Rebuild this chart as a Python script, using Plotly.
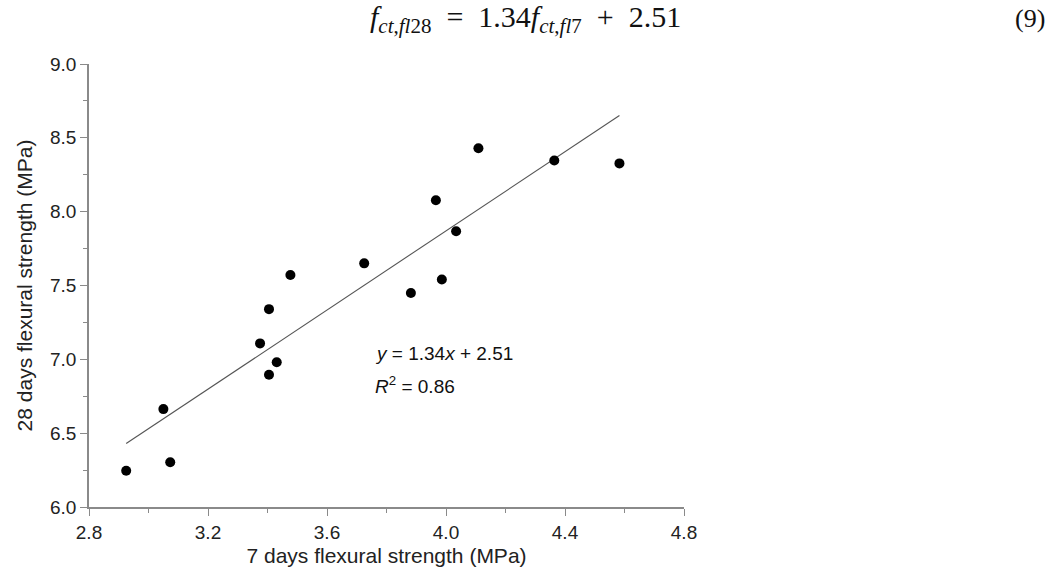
import plotly.graph_objects as go

# Data
x_7d = [2.925, 3.05, 3.073, 3.375, 3.405, 3.431, 3.405, 3.477, 3.725,
        3.882, 3.966, 3.986, 4.034, 4.109, 4.364, 4.583]
y_28d = [6.246, 6.663, 6.303, 7.108, 6.896, 6.98, 7.34, 7.571, 7.65,
         7.449, 8.077, 7.541, 7.867, 8.43, 8.347, 8.327]
slope = 1.34
intercept = 2.51
r2 = 0.86

x_ticks = [2.8, 3.2, 3.6, 4.0, 4.4, 4.8]
y_ticks = [6.0, 6.5, 7.0, 7.5, 8.0, 8.5, 9.0]

line_x = [min(x_7d), max(x_7d)]
line_y = [slope * v + intercept for v in line_x]

W, H = 1062, 580
L, R, T, B = 89, 378, 64, 73
pw, ph = W - L - R, H - T - B


def px(xp):
    return (xp - L) / pw


def py(yp):
    return (H - B - yp) / ph


fig = go.Figure()
fig.add_trace(go.Scatter(x=line_x, y=line_y, mode="lines",
                         line=dict(color="#555555", width=1.1),
                         showlegend=False, hoverinfo="skip"))
fig.add_trace(go.Scatter(x=x_7d, y=y_28d, mode="markers",
                         marker=dict(color="black", size=10),
                         showlegend=False))

sans = "Liberation Sans, Arial"
axis_common = dict(showline=True, linecolor="#8a8a8a", linewidth=1.5,
                   ticks="outside", tickcolor="#8a8a8a", tickwidth=1.2,
                   ticklen=7, showgrid=False, zeroline=False, mirror=False,
                   tickfont=dict(family=sans, size=19, color="#222222"))

fig.update_xaxes(range=[2.8, 4.8], tickvals=x_ticks,
                 ticktext=[f"{v:.1f}" for v in x_ticks],
                 minor=dict(dtick=0.2, ticks="outside", ticklen=4, tickcolor="#8a8a8a", tickwidth=1.2),
                 title=dict(text="7 days flexural strength (MPa)",
                            font=dict(family=sans, size=21, color="#222222"),
                            standoff=7),
                 **axis_common)
fig.update_yaxes(range=[6.0, 9.0], tickvals=y_ticks,
                 ticktext=[f"{v:.1f}" for v in y_ticks],
                 minor=dict(dtick=0.25, ticks="outside", ticklen=4, tickcolor="#8a8a8a", tickwidth=1.2),
                 title=dict(text="28 days flexural strength (MPa)",
                            font=dict(family=sans, size=21, color="#222222"),
                            standoff=12),
                 **axis_common)

fig.add_annotation(x=px(373), y=py(353), xref="paper", yref="paper", showarrow=False,
                   text=f"<i>y</i> = {slope:.2f}<i>x</i> + {intercept:.2f}",
                   font=dict(family=sans, size=19, color="#111111"),
                   xanchor="left", yanchor="middle")
fig.add_annotation(x=px(373), y=py(385), xref="paper", yref="paper", showarrow=False,
                   text=f"<i>R</i><sup>2</sup> = {r2:.2f}",
                   font=dict(family=sans, size=19, color="#111111"),
                   xanchor="left", yanchor="middle")
fig.add_annotation(x=px(368), y=py(19), xref="paper", yref="paper", showarrow=False,
                   text=(f"<i>f</i><sub><i>ct</i>,<i>fl</i>28</sub>&nbsp; = &nbsp;{slope:.2f}"
                         f"<i>f</i><sub><i>ct</i>,<i>fl</i>7</sub>&nbsp; + &nbsp;{intercept:.2f}"),
                   font=dict(family="Liberation Serif, Times New Roman", size=30, color="#111111"),
                   xanchor="left", yanchor="middle")
fig.add_annotation(x=px(1047), y=py(19), xref="paper", yref="paper", showarrow=False,
                   text="(9)",
                   font=dict(family="Liberation Serif, Times New Roman", size=26, color="#111111"),
                   xanchor="right", yanchor="middle")

fig.update_layout(width=W, height=H,
                  margin=dict(l=L, r=R, t=T, b=B, pad=0),
                  plot_bgcolor="white", paper_bgcolor="white")

fig.write_html("out.html")
